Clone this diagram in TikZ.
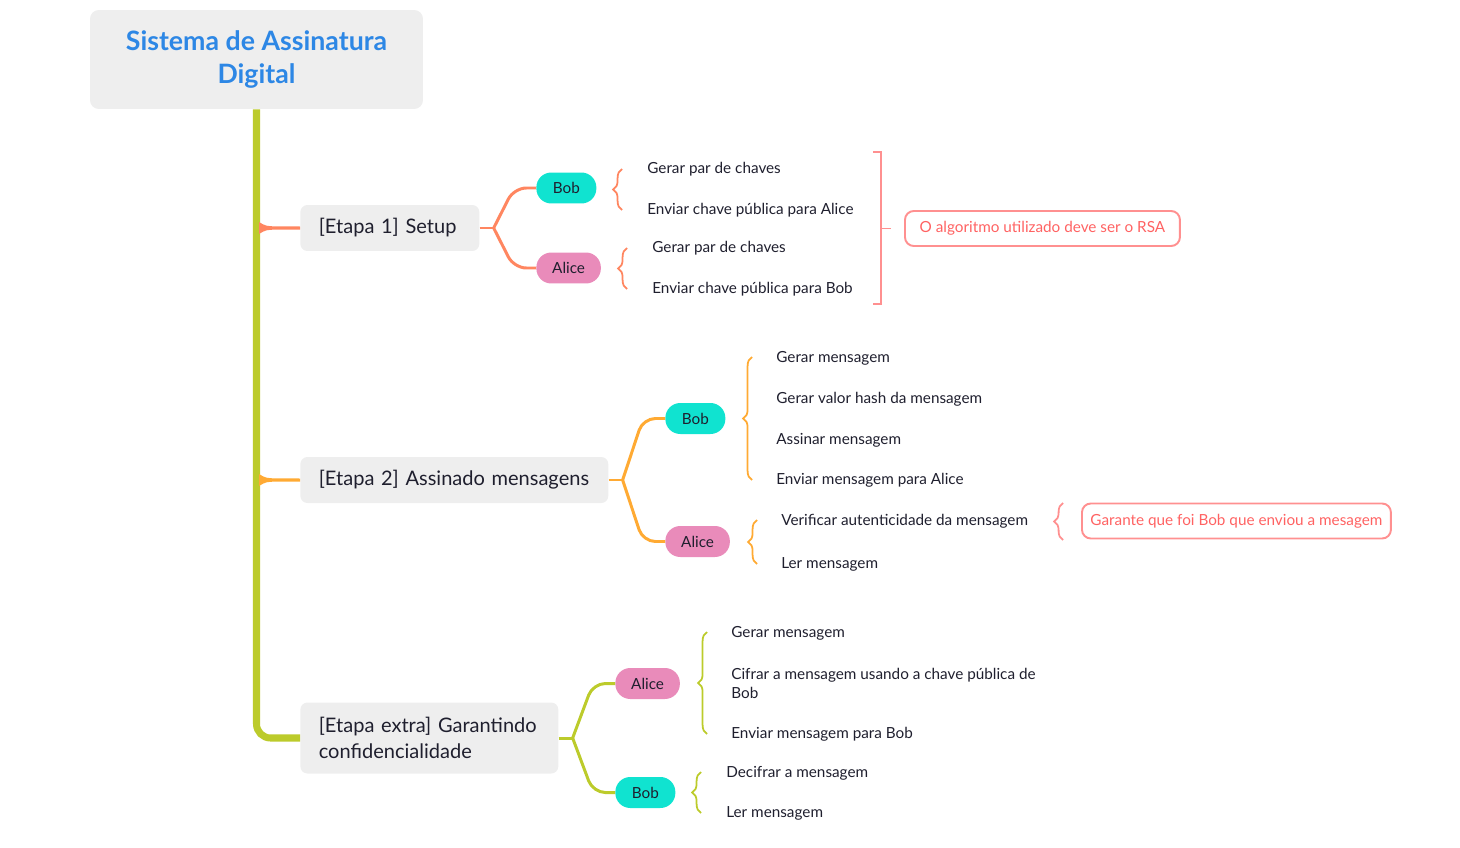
\documentclass[tikz,border=0pt]{standalone}
\usepackage{fontspec}
\setmainfont{Lato}
\usepackage{tikz}
\usetikzlibrary{positioning, calc, decorations.pathreplacing}

\definecolor{boxgray}{HTML}{EEEEEE}
\definecolor{titleblue}{HTML}{2D87E5}
\definecolor{trunkgreen}{HTML}{BCCB2B}
\definecolor{coralline}{HTML}{FF8660}
\definecolor{amberline}{HTML}{FFAA33}
\definecolor{bobcyan}{HTML}{10E3D0}
\definecolor{alicepink}{HTML}{E98BBA}
\definecolor{noteborder}{HTML}{FF9090}
\definecolor{notetext}{HTML}{FF6262}
\definecolor{inkdark}{HTML}{1F1F2E}

\tikzset{
  topic/.style={fill=boxgray, rounded corners=5pt, text=titleblue,
    font=\fontsize{15.2}{19.3}\selectfont\bfseries, align=center,
    minimum width=6.66cm, minimum height=1.98cm},
  stage/.style={fill=boxgray, rounded corners=4pt, text=inkdark, anchor=west,
    font=\fontsize{11.4}{14.5}\selectfont, align=left, inner xsep=0.37cm},
  person/.style={rounded corners=8.5pt, text=inkdark, anchor=west,
    font=\fontsize{8.7}{10}\selectfont, minimum height=0.62cm,
    minimum width=1.2cm, inner xsep=0pt},
  bob/.style={person, fill=bobcyan},
  alice/.style={person, fill=alicepink, minimum width=1.29cm},
  leaf/.style={anchor=west, inner sep=0pt, text=inkdark,
    font=\fontsize{8.7}{10.8}\selectfont, align=left},
  note/.style={draw=noteborder, line width=1.1pt, rounded corners=5pt,
    text=notetext, anchor=west, font=\fontsize{8.7}{10.8}\selectfont,
    minimum height=0.7cm},
  trunk/.style={trunkgreen, line width=4pt},
  branch/.style={line width=1.7pt, rounded corners=7pt},
  curly/.style={decorate, decoration={brace, amplitude=5pt}, line width=1pt},
}

\begin{document}
\begin{tikzpicture}[x=0.02cm, y=-0.02cm]
  \useasboundingbox (0,0) rectangle (1460,848);

  % Central topic and stages
  \node[topic] (title) at (256.5,59.5) {Sistema de Assinatura\\Digital};
  \node[stage, minimum width=3.58cm, minimum height=0.92cm, text width=2.84cm] (e1) at (300,228) {[Etapa 1] Setup};
  \node[stage, minimum width=6.16cm, minimum height=0.92cm, text width=5.42cm] (e2) at (300,480) {[Etapa 2] Assinado mensagens};
  \node[stage, minimum width=5.16cm, minimum height=1.42cm, text width=4.42cm] (e3) at (300,738) {[Etapa extra] Garantindo\\confidencialidade};

  % Trunk
  \draw[trunk, rounded corners=8pt] (title.south) -- (title.south |- e3.west) -- (e3.west);
  \fill[coralline] ($(e1.west)+(-41,-6)$) .. controls ($(e1.west)+(-34,-1.8)$) .. ($(e1.west)+(-22,-1.6)$)
    -- ($(e1.west)+(0,-1.5)$) -- ($(e1.west)+(0,1.5)$) -- ($(e1.west)+(-22,1.6)$)
    .. controls ($(e1.west)+(-34,1.8)$) .. ($(e1.west)+(-41,6)$) -- cycle;
  \fill[amberline] ($(e2.west)+(-41,-6)$) .. controls ($(e2.west)+(-34,-1.8)$) .. ($(e2.west)+(-22,-1.6)$)
    -- ($(e2.west)+(0,-1.5)$) -- ($(e2.west)+(0,1.5)$) -- ($(e2.west)+(-22,1.6)$)
    .. controls ($(e2.west)+(-34,1.8)$) .. ($(e2.west)+(-41,6)$) -- cycle;

  % Etapa 1
  \node[bob] (b1) at (536,188) {Bob};
  \node[alice] (a1) at (536,268) {Alice};
  \draw[branch, coralline] (e1.east) -- ++(14,0) coordinate (j1);
  \draw[branch, coralline] (j1) -- ($(b1.west)+(-22,0)$) -- (b1.west);
  \draw[branch, coralline] (j1) -- ($(a1.west)+(-22,0)$) -- (a1.west);

  \node[leaf] (l11) at (647,169) {Gerar par de chaves};
  \node[leaf] (l12) at (647,210) {Enviar chave pública para Alice};
  \node[leaf] (l13) at (652,248) {Gerar par de chaves};
  \node[leaf] (l14) at (652,289) {Enviar chave pública para Bob};
  \draw[curly, coralline] ($(l12.west)+(-25,0)$) -- ($(l11.west)+(-25,0)$);
  \draw[curly, coralline] ($(l14.west)+(-25,0)$) -- ($(l13.west)+(-25,0)$);

  \node[note, minimum width=5.5cm] (n1) at (904,228.5) {O algoritmo utilizado deve ser o RSA};
  \draw[noteborder, line width=1.1pt] (873,152) -- (881,152) -- (881,304) -- (873,304);
  \draw[noteborder, line width=1.1pt] (881,228.5) -- ($(n1.west)+(-13,0)$);

  % Etapa 2
  \node[bob] (b2) at (665,418.5) {Bob};
  \node[alice] (a2) at (665,541.5) {Alice};
  \draw[branch, amberline] (e2.east) -- ++(14,0) coordinate (j2);
  \draw[branch, amberline] (j2) -- ($(b2.west)+(-22,0)$) -- (b2.west);
  \draw[branch, amberline] (j2) -- ($(a2.west)+(-22,0)$) -- (a2.west);

  \node[leaf] (l21) at (776,358) {Gerar mensagem};
  \node[leaf] (l22) at (776,399) {Gerar valor hash da mensagem};
  \node[leaf] (l23) at (776,440) {Assinar mensagem};
  \node[leaf] (l24) at (776,480) {Enviar mensagem para Alice};
  \node[leaf] (l25) at (781,521) {Verificar autenticidade da mensagem};
  \node[leaf] (l26) at (781,564) {Ler mensagem};
  \draw[curly, amberline] ($(l24.west)+(-24,0)$) -- ($(l21.west)+(-24,-1)$);
  \draw[curly, amberline] ($(l26.west)+(-24,0)$) -- ($(l25.west)+(-24,-1)$);

  \node[note, minimum width=6.18cm] (n2) at (1081,521) {Garante que foi Bob que enviou a mesagem};
  \draw[curly, noteborder] ($(n2.west)+(-18,19)$) -- ($(n2.west)+(-18,-18)$);

  % Etapa extra
  \node[alice] (a3) at (615,683.5) {Alice};
  \node[bob] (b3) at (615,792.5) {Bob};
  \draw[branch, trunkgreen] (e3.east) -- ++(14,0) coordinate (j3);
  \draw[branch, trunkgreen] (j3) -- ($(a3.west)+(-22,0)$) -- (a3.west);
  \draw[branch, trunkgreen] (j3) -- ($(b3.west)+(-22,0)$) -- (b3.west);

  \node[leaf] (l31) at (731,633) {Gerar mensagem};
  \node[leaf] (l32) at (731,683.5) {Cifrar a mensagem usando a chave pública de\\Bob};
  \node[leaf] (l33) at (731,734) {Enviar mensagem para Bob};
  \node[leaf] (l34) at (726,773) {Decifrar a mensagem};
  \node[leaf] (l35) at (726,813) {Ler mensagem};
  \draw[curly, trunkgreen] ($(l33.west)+(-24,0)$) -- ($(l31.west)+(-24,-1)$);
  \draw[curly, trunkgreen] ($(l35.west)+(-25,0)$) -- ($(l34.west)+(-25,-1)$);
\end{tikzpicture}
\end{document}
